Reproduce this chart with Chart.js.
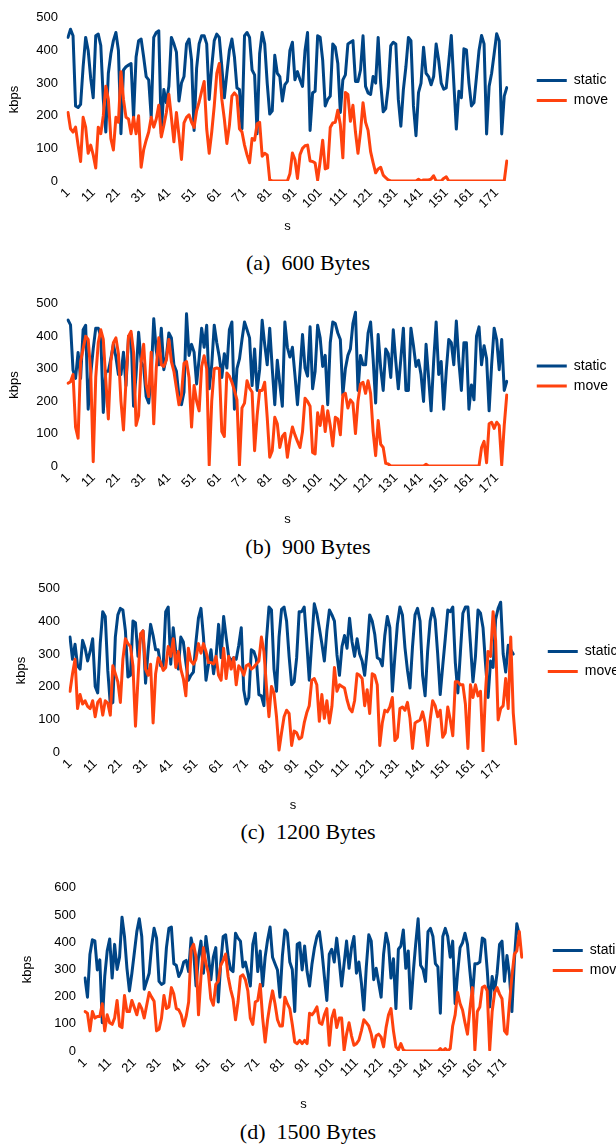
<!DOCTYPE html>
<html>
<head>
<meta charset="utf-8">
<script src="https://cdn.jsdelivr.net/npm/chart.js@4.4.1/dist/chart.umd.min.js"></script>
<style>
  html, body { margin: 0; padding: 0; background: #fff; overflow: hidden; }
  body { width: 616px; height: 1147px; position: relative; }
  canvas { position: absolute; left: 0; }
  .caption {
    position: absolute; left: 0; width: 616px; text-align: center;
    font-family: "Liberation Serif", "DejaVu Serif", serif; font-size: 22px;
    line-height: 22px; white-space: pre; color: #000;
  }
</style>
</head>
<body>
<canvas id="chart_a"></canvas>
<canvas id="chart_b"></canvas>
<canvas id="chart_c"></canvas>
<canvas id="chart_d"></canvas>
<div class="caption" style="top:252px">(a)  600 Bytes</div>
<div class="caption" style="top:536px">(b)  900 Bytes</div>
<div class="caption" style="top:821px">(c)  1200 Bytes</div>
<div class="caption" style="top:1121px">(d)  1500 Bytes</div>
<script>
const staticColor = '#004586';
const moveColor = '#ff420e';

// (a) 600 Bytes
const static600 = [
  440, 465, 445, 230, 225, 235, 350, 440, 400, 315,
  255, 445, 450, 415, 250, 150, 330, 390, 430, 455,
  400, 145, 340, 350, 355, 360, 195, 380, 430, 435,
  380, 320, 310, 195, 440, 455, 460, 145, 280, 240,
  290, 440, 420, 395, 245, 300, 320, 420, 435, 370,
  155, 345, 420, 445, 445, 420, 250, 350, 430, 450,
  440, 350, 255, 330, 400, 435, 380, 285, 280, 160,
  445, 455, 440, 340, 325, 145, 390, 455, 420, 300,
  205, 215, 385, 330, 320, 245, 295, 305, 400, 425,
  310, 335, 310, 290, 400, 455, 155, 270, 275, 445,
  440, 370, 230, 250, 260, 420, 410, 360, 210, 310,
  325, 420, 425, 430, 305, 305, 340, 445, 290, 270,
  265, 320, 300, 440, 300, 212, 222, 290, 415, 425,
  420, 250, 168, 280, 350, 440, 430, 230, 139, 271,
  300, 410, 330, 320, 295, 320, 420, 370, 300, 281,
  285, 365, 446, 300, 159, 275, 255, 405, 402, 300,
  230, 240, 320, 400, 446, 420, 144, 290, 330, 390,
  451, 430, 144, 260, 286
];
const move600 = [
  210, 160, 150, 165, 110, 60, 195, 165, 85, 110,
  80, 40, 165, 145, 200, 290, 250, 130, 95, 195,
  180, 335, 250, 195, 190, 145, 195, 145, 200, 42,
  95, 125, 150, 195, 165, 190, 232, 135, 170, 210,
  266, 195, 120, 210, 140, 66, 178, 195, 203, 180,
  164, 215, 242, 275, 305, 160, 85, 150, 230, 330,
  360, 250, 190, 115, 170, 260, 270, 260, 160, 150,
  110, 80, 56, 130, 125, 175, 180, 76, 85, 80,
  3, 0, 0, 0, 0, 0, 0, 0, 22, 86,
  66, 8, 81, 100, 108, 110, 61, 60, 55, 3,
  60, 125, 37, 40, 164, 178, 180, 217, 173, 71,
  271, 265, 183, 232, 150, 85, 150, 240, 180, 155,
  90, 56, 25, 37, 42, 18, 10, 3, 0, 0,
  0, 0, 0, 0, 0, 0, 0, 0, 0, 5,
  0, 3, 3, 3, 6, 16, 0, 0, 0, 8,
  13, 0, 0, 0, 0, 0, 0, 0, 0, 0,
  0, 0, 0, 0, 0, 0, 0, 0, 0, 0,
  0, 0, 0, 0, 61
];

// (b) 900 Bytes
const static900 = [
  450, 435, 295, 270, 350, 270, 420, 434, 175, 282,
  361, 425, 425, 400, 165, 292, 292, 331, 375, 336,
  282, 282, 351, 248, 400, 405, 184, 282, 412, 321,
  307, 214, 194, 277, 454, 356, 312, 425, 297, 336,
  410, 395, 312, 292, 214, 189, 228, 469, 341, 375,
  351, 253, 331, 425, 366, 434, 238, 312, 434, 380,
  336, 273, 346, 302, 420, 444, 175, 300, 330, 390,
  444, 420, 395, 248, 361, 233, 297, 449, 375, 312,
  425, 300, 189, 326, 253, 184, 444, 366, 336, 366,
  280, 189, 292, 405, 302, 277, 429, 238, 292, 434,
  395, 307, 341, 189, 380, 444, 439, 410, 390, 219,
  300, 341, 361, 440, 474, 233, 341, 312, 312, 410,
  444, 331, 194, 405, 302, 233, 361, 346, 273, 420,
  322, 238, 331, 425, 233, 233, 425, 371, 307, 326,
  282, 199, 375, 273, 170, 322, 444, 282, 322, 175,
  292, 390, 380, 312, 447, 322, 233, 380, 380, 175,
  250, 204, 400, 429, 312, 371, 331, 170, 312, 425,
  390, 297, 390, 233, 261
];
const move900 = [
  255, 260, 282, 120, 86, 322, 361, 400, 390, 292,
  13, 273, 380, 420, 390, 263, 145, 322, 380, 395,
  346, 200, 111, 263, 400, 415, 351, 125, 155, 322,
  375, 250, 214, 351, 130, 302, 395, 312, 307, 326,
  390, 322, 292, 240, 189, 219, 317, 322, 273, 120,
  248, 200, 170, 307, 340, 300, 3, 200, 300, 302,
  300, 106, 91, 287, 277, 258, 233, 204, 3, 179,
  194, 263, 240, 228, 47, 155, 233, 233, 258, 150,
  27, 47, 150, 130, 57, 91, 101, 27, 81, 120,
  96, 76, 57, 106, 209, 199, 184, 42, 37, 164,
  125, 184, 106, 170, 125, 62, 150, 145, 96, 219,
  224, 179, 204, 194, 100, 200, 253, 258, 224, 263,
  224, 106, 32, 140, 67, 57, 8, 6, 0, 0,
  0, 0, 0, 0, 0, 0, 0, 0, 0, 0,
  0, 0, 5, 0, 0, 0, 0, 0, 0, 0,
  0, 0, 0, 0, 0, 0, 0, 0, 0, 0,
  0, 0, 0, 0, 57, 76, 10, 130, 135, 116,
  135, 125, 3, 125, 219
];

// (c) 1200 Bytes
const static1200 = [
  352, 284, 330, 264, 254, 342, 318, 279, 308, 347,
  201, 181, 332, 430, 415, 250, 147, 152, 352, 420,
  440, 435, 371, 230, 235, 401, 396, 293, 352, 371,
  211, 308, 391, 357, 313, 313, 264, 264, 430, 444,
  269, 381, 308, 254, 352, 337, 274, 220, 235, 245,
  337, 410, 440, 352, 220, 269, 313, 240, 293, 391,
  289, 415, 352, 293, 279, 289, 284, 327, 381, 190,
  147, 167, 313, 308, 284, 176, 172, 142, 342, 444,
  435, 254, 186, 352, 437, 444, 401, 293, 206, 215,
  289, 430, 430, 444, 337, 220, 337, 454, 425, 380,
  332, 279, 371, 435, 420, 401, 298, 235, 323, 357,
  318, 410, 337, 293, 347, 300, 279, 235, 313, 420,
  401, 361, 289, 284, 264, 357, 415, 381, 186, 293,
  391, 444, 420, 320, 250, 196, 323, 420, 440, 401,
  235, 172, 308, 401, 440, 406, 300, 176, 264, 347,
  435, 430, 444, 274, 181, 303, 425, 444, 444, 332,
  215, 293, 435, 425, 381, 269, 167, 279, 259, 406,
  440, 459, 300, 245, 327, 313, 300
];
const move1200 = [
  186, 240, 284, 133, 176, 147, 157, 140, 133, 157,
  108, 152, 162, 113, 157, 150, 113, 264, 240, 215,
  152, 284, 347, 332, 323, 264, 79, 225, 362, 371,
  254, 235, 269, 89, 240, 289, 274, 250, 259, 323,
  293, 347, 259, 308, 254, 225, 172, 318, 279, 269,
  284, 332, 303, 332, 308, 274, 274, 270, 293, 235,
  220, 318, 225, 293, 254, 289, 206, 264, 254, 235,
  264, 269, 254, 260, 270, 279, 352, 308, 201, 108,
  201, 181, 108, 6, 59, 108, 128, 118, 20, 64,
  59, 40, 45, 89, 120, 142, 220, 225, 206, 94,
  176, 103, 157, 89, 140, 259, 186, 206, 201, 196,
  160, 133, 123, 157, 240, 235, 225, 142, 191, 118,
  240, 235, 206, 20, 89, 128, 123, 138, 167, 35,
  45, 133, 138, 128, 152, 103, 11, 89, 94, 98,
  123, 89, 20, 98, 157, 142, 108, 128, 45, 59,
  138, 98, 50, 215, 215, 206, 206, 147, 11, 206,
  167, 206, 172, 186, 3, 186, 308, 293, 430, 342,
  98, 133, 142, 225, 133, 352, 120, 25
];

// (d) 1500 Bytes
const static1500 = [
  268, 198, 356, 409, 405, 298, 335, 104, 274, 368,
  412, 268, 392, 300, 345, 492, 421, 304, 221, 286,
  362, 439, 486, 421, 227, 256, 286, 386, 451, 415,
  256, 245, 250, 380, 451, 456, 321, 315, 274, 292,
  327, 333, 292, 415, 368, 239, 345, 404, 286, 421,
  351, 262, 345, 380, 180, 321, 421, 427, 345, 300,
  292, 433, 415, 404, 309, 327, 286, 239, 392, 433,
  292, 368, 239, 345, 409, 456, 345, 321, 298, 198,
  351, 445, 433, 327, 300, 145, 392, 398, 298, 386,
  292, 239, 321, 380, 421, 439, 368, 274, 186, 356,
  374, 327, 415, 333, 239, 321, 404, 304, 380, 421,
  286, 327, 251, 151, 309, 427, 404, 262, 304, 251,
  198, 356, 433, 392, 268, 339, 156, 374, 386, 445,
  304, 368, 156, 286, 392, 486, 315, 300, 256, 439,
  451, 421, 321, 309, 139, 421, 451, 421, 345, 404,
  174, 286, 380, 398, 433, 392, 292, 198, 321, 321,
  327, 415, 409, 298, 162, 274, 221, 286, 392, 404,
  256, 351, 280, 145, 333, 468, 427
];
const move1500 = [
  145, 139, 74, 145, 121, 127, 127, 174, 74, 133,
  104, 98, 121, 186, 92, 86, 204, 145, 145, 186,
  160, 133, 174, 156, 121, 168, 215, 198, 183, 74,
  80, 121, 204, 156, 162, 233, 209, 156, 151, 133,
  92, 127, 180, 374, 392, 345, 133, 274, 380, 321,
  286, 192, 168, 245, 256, 315, 333, 356, 274, 227,
  192, 115, 180, 274, 280, 262, 221, 121, 98, 180,
  186, 245, 121, 33, 115, 174, 221, 174, 115, 92,
  92, 198, 174, 156, 98, 33, 27, 39, 27, 39,
  27, 139, 133, 145, 162, 104, 98, 133, 156, 21,
  121, 151, 86, 121, 121, 4, 62, 104, 56, 21,
  27, 40, 74, 115, 104, 92, 62, 15, 56, 62,
  51, 15, 86, 133, 156, 74, 15, 4, 27, 4,
  0, 0, 0, 0, 0, 0, 0, 0, 0, 0,
  0, 0, 0, 0, 9, 0, 9, 0, 9, 92,
  133, 215, 174, 151, 104, 62, 156, 233, 4, 145,
  162, 233, 239, 221, 4, 145, 215, 233, 209, 192,
  74, 62, 174, 274, 356, 368, 439, 345
];

// x categories: seconds 1..n
function seconds(n) {
  return Array.from({length: n}, (_, i) => String(i + 1));
}

Chart.defaults.font.family = '"Liberation Sans", Arial, sans-serif';
Chart.defaults.color = '#000';

const tickFont = {size: 13};

// moves the right legend up a little, it sits above the middle of the plot
const legendLift = {
  id: 'legendLift',
  afterLayout(chart) {
    const lift = chart.options.plugins.legendLift.lift;
    chart.legend.top -= lift;
    chart.legend.bottom -= lift;
  }
};

const panels = [
  {id: 'chart_a', top: 0, width: 618, height: 236, labels: seconds(175),
   staticData: static600, moveData: move600, yMax: 500, yStep: 50,
   yAxisWidth: 68, tickPad: 10, titleLeft: 7, gap: 24, xAxisHeight: 55, titleBottom: 2},
  {id: 'chart_b', top: 286, width: 618, height: 244, labels: seconds(175),
   staticData: static900, moveData: move900, yMax: 500, yStep: 50,
   yAxisWidth: 68, tickPad: 10, titleLeft: 7, gap: 24, xAxisHeight: 64, titleBottom: 3},
  {id: 'chart_c', top: 571, width: 629, height: 245, labels: seconds(178),
   staticData: static1200, moveData: move1200, yMax: 500, yStep: 50,
   yAxisWidth: 70, tickPad: 10, titleLeft: 14, gap: 26, xAxisHeight: 64, titleBottom: 3},
  {id: 'chart_d', top: 871, width: 634, height: 244, labels: seconds(178),
   staticData: static1500, moveData: move1500, yMax: 600, yStep: 100,
   yAxisWidth: 85, tickPad: 9, titleLeft: 20, gap: 25, xAxisHeight: 64, titleBottom: 3}
];

panels.forEach((p) => {
  const canvas = document.getElementById(p.id);
  canvas.width = p.width;
  canvas.height = p.height;
  canvas.style.top = p.top + 'px';

  new Chart(canvas, {
    type: 'line',
    data: {
      labels: p.labels,
      datasets: [{
        label: 'static',
        data: p.staticData,
        borderColor: staticColor,
        backgroundColor: staticColor,
        borderWidth: 3,
        pointRadius: 0,
        borderJoinStyle: 'round',
        borderCapStyle: 'round',
        order: 1
      }, {
        label: 'move',
        data: p.moveData,
        borderColor: moveColor,
        backgroundColor: moveColor,
        borderWidth: 3,
        pointRadius: 0,
        borderJoinStyle: 'round',
        borderCapStyle: 'round',
        order: 0
      }]
    },
    options: {
      responsive: false,
      animation: false,
      events: [],
      layout: {padding: {top: 10, left: 0, right: 0, bottom: 0}},
      scales: {
        x: {
          grid: {display: false, drawTicks: false},
          border: {display: false},
          ticks: {
            autoSkip: false,
            minRotation: 45,
            maxRotation: 45,
            padding: 4,
            font: tickFont,
            callback: function (value, index) {
              return index % 10 === 0 ? this.getLabelForValue(value) : '';
            }
          },
          title: {display: true, text: 's', font: {size: 13}, padding: {top: 0, bottom: p.titleBottom}},
          afterFit: (scale) => { scale.height = p.xAxisHeight; }
        },
        y: {
          min: 0,
          max: p.yMax,
          grid: {display: false, drawTicks: false},
          border: {display: false},
          ticks: {stepSize: p.yStep, padding: p.tickPad, font: tickFont},
          title: {display: true, text: 'kbps', font: {size: 13}, padding: {top: p.titleLeft, bottom: 0}},
          afterFit: (scale) => { scale.width = p.yAxisWidth; }
        },
        yRight: {
          type: 'linear',
          position: 'right',
          grid: {display: false, drawTicks: false},
          border: {display: false},
          ticks: {display: false},
          afterFit: (scale) => { scale.width = p.gap; }
        }
      },
      plugins: {
        legendLift: {lift: 9},
        tooltip: {enabled: false},
        legend: {
          position: 'right',
          align: 'center',
          fullSize: false,
          labels: {
            boxWidth: 30,
            boxHeight: 3,
            padding: 6,
            font: {size: 14},
            generateLabels: (chart) => chart.data.datasets.map((ds, i) => ({
              text: ds.label,
              fillStyle: ds.borderColor,
              strokeStyle: ds.borderColor,
              lineWidth: 0,
              hidden: false,
              datasetIndex: i
            }))
          }
        }
      }
    },
    plugins: [legendLift]
  });
});
</script>
</body>
</html>
